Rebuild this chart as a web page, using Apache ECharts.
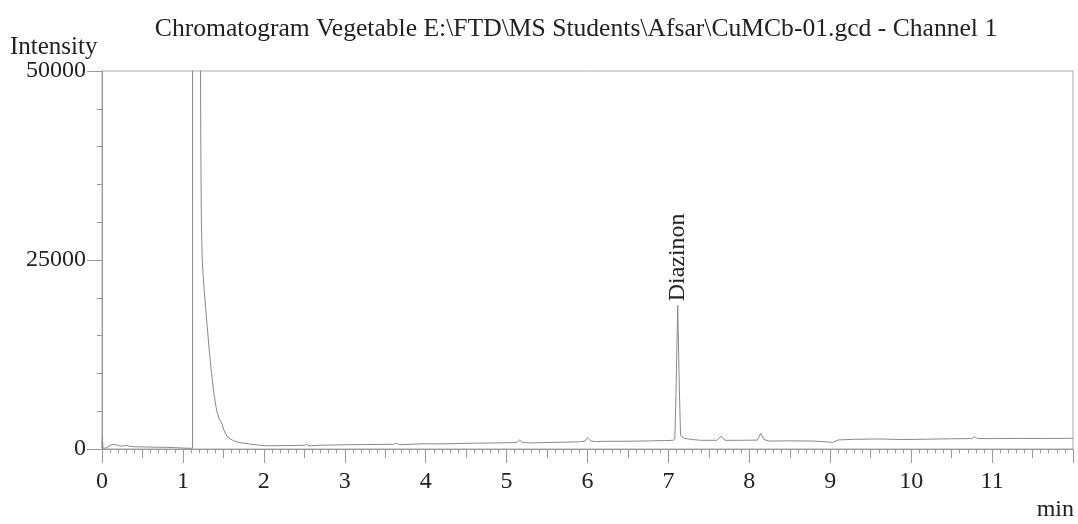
<!DOCTYPE html>
<html>
<head>
<meta charset="utf-8">
<script src="https://cdn.jsdelivr.net/npm/echarts@6/dist/echarts.min.js"></script>
<style>html,body{margin:0;padding:0;background:#fff;}#c{width:1078px;height:524px;}</style>
</head>
<body>
<div id="c"></div>
<script>
// Retention time (min)
var times = [0.00,0.005,0.012,0.06,0.10,0.14,0.18,0.22,0.26,0.30,0.34,0.40,0.50,0.60,0.70,0.80,0.90,1.00,1.05,1.119,1.121,1.205,1.217,1.22,1.228,1.2387,1.251,1.2634,1.2798,1.3004,1.3251,1.354,1.3827,1.4157,1.4444,1.465,1.4815,1.506,1.547,1.621,1.704,1.827,1.95,2.03,2.2,2.4,2.5,2.53,2.56,2.7,2.85,3.0,3.2,3.4,3.6,3.64,3.68,3.8,3.98,4.05,4.2,4.4,4.6,4.8,5.0,5.12,5.16,5.2,5.3,5.5,5.7,5.9,5.97,6.0,6.04,6.1,6.2,6.4,6.6,6.8,6.95,7.06,7.08,7.095,7.115,7.135,7.15,7.17,7.2,7.3,7.4,7.6,7.65,7.7,7.9,8.1,8.14,8.18,8.25,8.5,8.8,9.0,9.03,9.1,9.3,9.6,9.9,10.2,10.5,10.75,10.78,10.82,11.0,11.3,11.6,11.9,12.0];
// Intensity
var intensity = [100,1700,100,150,500,600,550,400,380,500,350,300,280,250,230,220,180,120,100,90,1000000,1000000,52000,42000,30000,25000,22800,21000,18800,16200,13100,10000,7360,5160,4060,3920,3400,2510,1630,1100,840,660,500,440,440,470,480,620,420,500,530,560,580,600,620,750,560,620,700,680,680,720,770,790,830,850,1190,850,800,860,900,950,1050,1500,1050,970,1020,1020,1040,1080,1120,1150,1450,8000,19000,8000,1800,1650,1400,1250,1150,1150,1700,1150,1150,1180,2080,1250,1050,1080,1050,900,880,1200,1280,1330,1250,1300,1350,1380,1630,1380,1380,1400,1390,1410,1415];
var peakName = 'Diazinon';
var peakTime = 7.115;
var peakHeight = 19000;
var yTicks = [0, 25000, 50000];

var data = times.map(function (t, i) { return [t, intensity[i]]; });
var serif = 'Liberation Serif';
var chart = echarts.init(document.getElementById('c'));
chart.setOption({
  animation: false,
  backgroundColor: '#fff',
  title: {
    text: 'Chromatogram Vegetable E:\\FTD\\MS Students\\Afsar\\CuMCb-01.gcd - Channel 1',
    left: 571, textAlign: 'center', top: 11,
    textStyle: { fontFamily: serif, fontSize: 25.6, fontWeight: 'normal', color: '#222' }
  },
  graphic: [
    { type: 'text', left: 10, top: 35, style: { text: 'Intensity', font: '25px "Liberation Serif"', fill: '#222' } },
    { type: 'text', right: 4, top: 498, style: { text: 'min', font: '24px "Liberation Serif"', fill: '#222' } }
  ],
  grid: { left: 102, top: 71, right: 5, bottom: 75, show: true, borderColor: '#aaa', borderWidth: 1 },
  xAxis: [{
    type: 'value', min: 0, max: 12, interval: 1,
    axisLine: { show: true, onZero: false, lineStyle: { color: '#999', width: 1 } },
    axisTick: { show: true, inside: false, length: 14, lineStyle: { color: '#999' } },
    minorTick: { show: true, splitNumber: 10, length: 4, lineStyle: { color: '#999' } },
    splitLine: { show: false },
    axisLabel: { showMaxLabel: false, margin: 21, fontFamily: serif, fontSize: 24, color: '#222' }
  }, {
    type: 'value', min: 0, max: 12, interval: 0.5, position: 'bottom',
    axisLine: { show: false },
    axisTick: { show: true, length: 9, lineStyle: { color: '#999' } },
    axisLabel: { show: false }, splitLine: { show: false }
  }],
  yAxis: {
    type: 'value', min: 0, max: 50000, interval: 25000,
    axisLine: { show: true, lineStyle: { color: '#999', width: 1 } },
    axisTick: { show: true, length: 15, lineStyle: { color: '#999' } },
    minorTick: { show: true, splitNumber: 5, length: 5, lineStyle: { color: '#999' } },
    splitLine: { show: false },
    axisLabel: { margin: 16, fontFamily: serif, fontSize: 24, color: '#222',
      formatter: function (v) { return yTicks.indexOf(v) >= 0 ? String(v) : ''; } }
  },
  series: [{
    type: 'line', data: data, xAxisIndex: 0, showSymbol: false, symbol: 'none', clip: true,
    lineStyle: { color: '#8a8a8a', width: 1 },
    markPoint: {
      symbol: 'circle', symbolSize: 0,
      data: [{ coord: [peakTime, peakHeight], value: peakName }],
      label: { show: true, formatter: peakName, position: 'top', rotate: 90, align: 'left', verticalAlign: 'middle',
        distance: 4, fontFamily: serif, fontSize: 24, color: '#222' }
    }
  }]
});
</script>
</body>
</html>
